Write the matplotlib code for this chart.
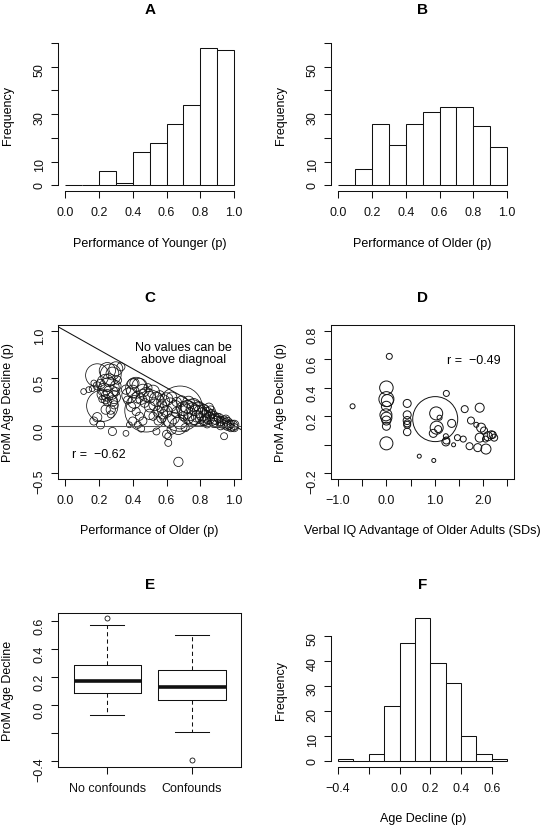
"""Six-panel figure: prospective memory age decline (histograms, scatter, boxplot)."""

import matplotlib
matplotlib.use("Agg")
import matplotlib.pyplot as plt
import numpy as np

plt.rcParams['font.family'] = ['Liberation Sans', 'DejaVu Sans']
plt.rcParams['font.size'] = 9

W, H = 544, 829

# ---- data -------------------------------------------------------------
hist_edges = [0.0, 0.1, 0.2, 0.3, 0.4, 0.5, 0.6, 0.7, 0.8, 0.9, 1.0]
younger_counts = [0, 0, 6, 1, 14, 18, 26, 34, 58, 57]
older_counts = [0, 7, 26, 17, 26, 31, 33, 33, 25, 16]

decline_edges = [-0.4, -0.3, -0.2, -0.1, 0.0, 0.1, 0.2, 0.3, 0.4, 0.5, 0.6, 0.7]
decline_counts = [1, 0, 3, 22, 47, 57, 39, 31, 10, 3, 1]

# panel C: performance of older vs age decline, circle size ~ study weight
c_older = [
    0.11, 0.14, 0.16, 0.17, 0.19, 0.17, 0.19, 0.21, 0.28, 0.36, 0.24, 0.27,
    0.19, 0.27, 0.25, 0.28, 0.30, 0.33, 0.22, 0.24, 0.26, 0.23, 0.27, 0.25,
    0.29, 0.24, 0.28, 0.22, 0.30, 0.26, 0.21, 0.30, 0.25, 0.29, 0.22, 0.31,
    0.27,
    0.48, 0.42, 0.38, 0.40, 0.44, 0.46, 0.43, 0.41, 0.45, 0.48, 0.50, 0.52,
    0.54, 0.53, 0.50, 0.47, 0.39, 0.42, 0.44, 0.46, 0.40, 0.43, 0.45, 0.38,
    0.36, 0.40, 0.37, 0.50, 0.52, 0.55, 0.56, 0.58, 0.57, 0.55, 0.54, 0.49,
    0.41,
    0.68, 0.60, 0.62, 0.60, 0.63, 0.65, 0.66, 0.64, 0.62, 0.60, 0.61, 0.61,
    0.63, 0.67, 0.67, 0.68, 0.70, 0.72, 0.71, 0.73, 0.69, 0.74, 0.75, 0.76,
    0.77, 0.78, 0.79, 0.80, 0.73, 0.76, 0.70, 0.66, 0.58, 0.75, 0.79, 0.57,
    0.71,
    0.81, 0.82, 0.83, 0.84, 0.85, 0.86, 0.87, 0.88, 0.89, 0.90, 0.91, 0.92,
    0.93, 0.94, 0.95, 0.96, 0.97, 0.98, 0.99, 1.00, 1.00, 0.94, 0.82, 0.84,
    0.86, 0.88, 0.90, 0.92, 0.96, 0.98, 0.80, 0.83, 0.87, 0.85, 0.95,
]
c_decline = [
    0.36, 0.38, 0.39, 0.45, 0.42, 0.05, 0.09, 0.01, -0.06, -0.08, 0.17, 0.17,
    0.53, 0.54, 0.58, 0.55, 0.60, 0.62, 0.21, 0.45, 0.40, 0.38, 0.35, 0.32,
    0.30, 0.28, 0.26, 0.33, 0.42, 0.48, 0.44, 0.36, 0.25, 0.22, 0.28, 0.48,
    0.12,
    0.16, 0.40, 0.32, 0.36, 0.42, 0.37, 0.30, 0.25, 0.28, 0.33, 0.30, 0.36,
    0.28, 0.22, 0.20, 0.24, 0.20, 0.15, 0.10, 0.05, 0.05, 0.01, -0.03, 0.01,
    0.38, 0.44, 0.27, 0.12, 0.10, 0.15, 0.32, 0.26, 0.20, 0.05, -0.06, 0.40,
    0.45,
    0.18, 0.28, 0.22, 0.15, 0.30, 0.20, 0.14, 0.08, 0.05, -0.09, -0.11, -0.18,
    -0.04, -0.38, 0.00, 0.04, 0.18, 0.20, 0.15, 0.25, 0.26, 0.12, 0.18, 0.22,
    0.16, 0.10, 0.20, 0.15, 0.08, 0.06, 0.10, 0.25, 0.12, 0.14, 0.12, 0.08,
    -0.02,
    0.12, 0.17, 0.10, 0.14, 0.08, 0.12, 0.06, 0.10, 0.07, 0.04, 0.08, 0.05,
    0.03, 0.06, 0.02, 0.04, 0.01, 0.02, 0.00, 0.01, -0.02, -0.11, 0.05, 0.02,
    0.16, 0.03, 0.09, 0.00, 0.00, -0.02, 0.08, 0.06, 0.13, 0.19, 0.07,
]
c_weight = [
    1.0, 1.0, 1.0, 1.0, 1.4, 1.4, 1.6, 1.4, 1.4, 1.0, 1.6, 1.6,
    4.0, 3.6, 2.8, 2.2, 2.4, 1.4, 5.4, 3.0, 3.5, 2.2, 2.5, 2.0,
    2.2, 1.6, 1.8, 1.8, 1.8, 2.2, 1.6, 1.4, 1.4, 1.4, 1.2, 1.4,
    1.2,
    7.4, 3.6, 2.6, 2.2, 2.6, 2.2, 2.0, 2.2, 1.8, 2.4, 2.0, 2.2,
    2.4, 2.0, 1.8, 1.5, 1.6, 1.4, 1.4, 1.4, 1.4, 1.2, 1.2, 1.0,
    1.6, 1.8, 1.4, 1.8, 1.4, 1.8, 1.6, 2.2, 2.0, 1.4, 1.2, 1.4,
    1.6,
    7.8, 2.2, 2.4, 2.0, 1.8, 2.2, 1.8, 2.0, 2.2, 1.4, 1.2, 1.2,
    1.6, 1.6, 3.0, 2.4, 2.4, 2.2, 2.6, 2.0, 1.8, 2.2, 2.0, 2.2,
    1.8, 2.0, 1.8, 2.2, 1.8, 1.6, 1.6, 1.6, 1.6, 4.4, 4.0, 1.6,
    1.4,
    2.2, 1.8, 2.0, 1.8, 2.0, 1.6, 1.8, 1.6, 1.8, 2.0, 1.6, 1.6,
    1.8, 1.4, 1.8, 1.6, 1.6, 1.4, 1.8, 1.6, 1.4, 1.2, 1.6, 1.4,
    1.6, 1.6, 1.4, 1.4, 1.6, 1.4, 1.8, 1.8, 1.4, 1.6, 1.4,
]

# panel D: verbal IQ advantage vs age decline
d_viq = [
    -0.70, 0.06, 0.00, 0.00, 0.02, 0.00, -0.01, 0.00, 0.00, 0.00, 0.00,
    0.43, 0.43, 0.43, 0.43, 0.43, 0.43, 0.68, 0.98,
    1.01, 1.03, 1.04, 0.97, 1.07, 1.10, 1.24, 1.35, 1.23, 1.23, 1.24,
    1.39, 1.47, 1.59, 1.62, 1.75, 1.72, 1.89, 1.93, 1.86, 1.96, 1.93,
    2.02, 2.06, 2.10, 2.17, 2.20, 2.23, 2.05,
]
d_decline = [
    0.27, 0.62, 0.40, 0.32, 0.31, 0.27, 0.21, 0.19, 0.17, 0.13, 0.01,
    0.29, 0.21, 0.17, 0.15, 0.14, 0.09, -0.08, -0.11,
    0.18, 0.22, 0.12, 0.08, 0.11, 0.19, 0.36, 0.15, 0.06, 0.02, 0.03,
    0.00, 0.05, 0.04, 0.25, 0.17, -0.01, -0.02, 0.26, 0.14, 0.12, 0.05,
    0.10, -0.03, 0.06, 0.07, 0.07, 0.05, 0.04,
]
d_weight = [
    1.0, 1.2, 2.7, 3.0, 2.4, 2.0, 2.4, 2.2, 1.8, 1.6, 2.6,
    1.6, 1.6, 1.6, 1.4, 1.4, 1.5, 0.8, 0.8,
    9.0, 2.6, 2.6, 1.6, 1.4, 1.0, 1.2, 1.6, 1.0, 1.6, 1.4,
    0.8, 1.2, 1.2, 1.4, 1.4, 1.4, 1.6, 1.8, 1.0, 1.8, 1.8,
    1.4, 2.0, 1.8, 1.6, 1.4, 1.4, 1.2,
]

# panel E: boxplot summaries
box_groups = ['No confounds', 'Confounds']
box_med = [0.17, 0.13]
box_q1 = [0.09, 0.035]
box_q3 = [0.29, 0.25]
box_lo = [-0.07, -0.19]
box_hi = [0.57, 0.50]
box_out = [[0.62], [-0.39]]

# ---- layout helpers ---------------------------------------------------
COLS = [(58.3, 241.0), (331.3, 514.0)]
ROWS = [(38.3, 192.0), (326.0, 480.0), (613.5, 768.0)]
LW = 0.75
INK = '#111111'


def add_panel(col, row):
    x0, x1 = COLS[col]
    y0, y1 = ROWS[row]
    ax = fig.add_axes([x0 / W, 1 - y1 / H, (x1 - x0) / W, (y1 - y0) / H])
    ax.tick_params(direction='out', length=5, width=LW, colors=INK,
                   labelsize=9, pad=6)
    ax.tick_params(axis='y', labelrotation=90, pad=4)
    for sp in ax.spines.values():
        sp.set_linewidth(LW)
        sp.set_color(INK)
    return ax


def panel_text(col, row, title, xlabel, ylabel):
    x0, x1 = COLS[col]
    y0, y1 = ROWS[row]
    xc = (x0 + x1) / 2
    fig.text(xc / W, 1 - (y0 - 28) / H, title, ha='center', va='center',
             fontsize=11, fontweight='bold')
    if xlabel:
        fig.text(xc / W, 1 - (y1 + 51.5) / H, xlabel, ha='center', va='center')
    if ylabel:
        fig.text((x0 - 50) / W, 1 - ((y0 + y1) / 2) / H, ylabel, ha='center',
                 va='center', rotation=90)


def histogram(ax, edges, counts, xlim, ylim, xticks, xlabels, yticks, ylabels):
    edges = np.asarray(edges)
    widths = np.diff(edges)
    ax.bar(edges[:-1], counts, width=widths, align='edge', facecolor='white',
           edgecolor=INK, linewidth=LW)
    ax.set_xlim(*xlim)
    ax.set_ylim(*ylim)
    ax.spines['top'].set_visible(False)
    ax.spines['right'].set_visible(False)
    ax.spines['bottom'].set_bounds(xticks[0], xticks[-1])
    ax.spines['left'].set_bounds(yticks[0], yticks[-1])
    ax.set_xticks(xticks, xlabels)
    ax.set_yticks(yticks, ylabels)


def expand(lo, hi):
    d = (hi - lo) * 0.04
    return lo - d, hi + d


def cex_to_s(w, px_per_cex=5.0):
    d_pt = np.asarray(w) * px_per_cex * 0.72
    return d_pt ** 2


fig = plt.figure(figsize=(W / 100, H / 100), dpi=100)

p_ticks = [0.0, 0.2, 0.4, 0.6, 0.8, 1.0]
p_labels = ['0.0', '0.2', '0.4', '0.6', '0.8', '1.0']
freq_ticks = [0, 10, 20, 30, 40, 50, 60]
freq_labels = ['0', '10', '', '30', '', '50', '']

# A
ax = add_panel(0, 0)
histogram(ax, hist_edges, younger_counts, expand(0, 1), expand(0, 60),
          p_ticks, p_labels, freq_ticks, freq_labels)
panel_text(0, 0, 'A', 'Performance of Younger (p)', 'Frequency')

# B
ax = add_panel(1, 0)
histogram(ax, hist_edges, older_counts, expand(0, 1), expand(0, 60),
          p_ticks, p_labels, freq_ticks, freq_labels)
panel_text(1, 0, 'B', 'Performance of Older (p)', 'Frequency')

# C
ax = add_panel(0, 1)
ax.set_xlim(*expand(0, 1))
ax.set_ylim(*expand(-0.5, 1.0))
xx = np.array(ax.get_xlim())
ax.plot(xx, 1 - xx, color=INK, lw=LW)
ax.axhline(0, color='#555555', lw=LW)
ax.scatter(c_older, c_decline, s=cex_to_s(c_weight, 5.8), facecolors='none',
           edgecolors=INK, linewidths=0.55)
ax.text(0.70, 0.77, 'No values can be\nabove diagnoal', ha='center',
        va='center', linespacing=1.0)
ax.text(0.20, -0.30, 'r =  \u22120.62', ha='center', va='center')
ax.set_xticks(p_ticks, p_labels)
ax.set_yticks([-0.5, 0.0, 0.5, 1.0], ['\u22120.5', '0.0', '0.5', '1.0'])
panel_text(0, 1, 'C', 'Performance of Older (p)', 'ProM Age Decline (p)')

# D
ax = add_panel(1, 1)
ax.set_xlim(*expand(-1.0, 2.5))
ax.set_ylim(*expand(-0.2, 0.8))
ax.scatter(d_viq, d_decline, s=cex_to_s(d_weight), facecolors='none',
           edgecolors=INK, linewidths=0.7)
ax.text(1.80, 0.595, 'r =  \u22120.49', ha='center', va='center')
ax.set_xticks([-1.0, -0.5, 0.0, 0.5, 1.0, 1.5, 2.0, 2.5],
              ['\u22121.0', '', '0.0', '', '1.0', '', '2.0', ''])
ax.set_yticks([-0.2, 0.0, 0.2, 0.4, 0.6, 0.8],
              ['\u22120.2', '', '0.2', '0.4', '0.6', '0.8'])
panel_text(1, 1, 'D', 'Verbal IQ Advantage of Older Adults (SDs)',
           'ProM Age Decline (p)')

# E
ax = add_panel(0, 2)
stats = []
for i, name in enumerate(box_groups):
    stats.append(dict(label=name, med=box_med[i], q1=box_q1[i], q3=box_q3[i],
                      whislo=box_lo[i], whishi=box_hi[i], fliers=box_out[i]))
ax.bxp(stats, positions=[1, 2], widths=0.8, capwidths=0.4,
       boxprops=dict(color=INK, lw=LW),
       whiskerprops=dict(color=INK, lw=LW, linestyle=(0, (4, 3))),
       capprops=dict(color=INK, lw=LW),
       medianprops=dict(color=INK, lw=2.6, solid_capstyle='butt'),
       flierprops=dict(marker='o', markersize=3.6, markerfacecolor='none',
                       markeredgecolor=INK, markeredgewidth=0.6))
ax.set_xlim(*expand(0.5, 2.5))
ax.set_ylim(*expand(-0.4, 0.62))
ax.set_xticks([1, 2], box_groups)
ax.set_yticks([-0.4, -0.2, 0.0, 0.2, 0.4, 0.6],
              ['\u22120.4', '', '0.0', '0.2', '0.4', '0.6'])
panel_text(0, 2, 'E', None, 'ProM Age Decline')

# F
ax = add_panel(1, 2)
histogram(ax, decline_edges, decline_counts, expand(-0.4, 0.7), expand(0, 57),
          [-0.4, -0.2, 0.0, 0.2, 0.4, 0.6],
          ['\u22120.4', '', '0.0', '0.2', '0.4', '0.6'],
          [0, 10, 20, 30, 40, 50], ['0', '10', '20', '30', '40', '50'])
panel_text(1, 2, 'F', 'Age Decline (p)', 'Frequency')

fig.savefig('out.png', dpi=100)
